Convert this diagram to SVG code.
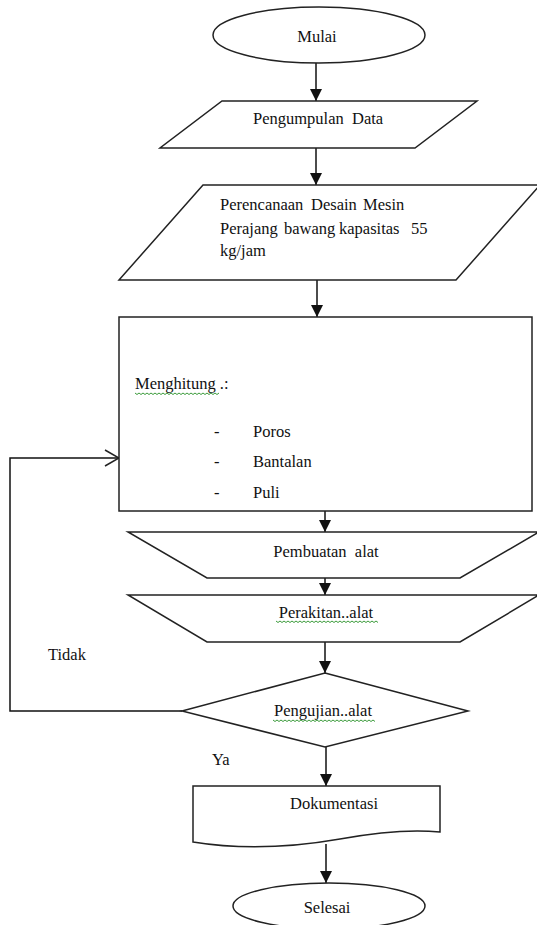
<svg xmlns="http://www.w3.org/2000/svg" width="537" height="925" viewBox="0 0 537 925">
<defs>
<marker id="arr" markerWidth="12" markerHeight="13" refX="12" refY="6" orient="auto" markerUnits="userSpaceOnUse">
<path d="M0,0 L12,6 L0,12 Z" fill="#111"/>
</marker>
<marker id="open" markerWidth="16" markerHeight="18" refX="15" refY="9" orient="auto" markerUnits="userSpaceOnUse">
<path d="M1,1 L15,9 L1,17" fill="none" stroke="#222" stroke-width="1.5"/>
</marker>
</defs>
<style>
.s{fill:#fff;stroke:#222;stroke-width:1.5}
.m{text-anchor:middle}
.c{fill:none;stroke:#111;stroke-width:1.5}
.sq{fill:none;stroke:#3a9a3a;stroke-width:1}
</style>
<rect width="537" height="925" fill="#fff"/>
<g font-family="Liberation Serif, serif" font-size="16.5" fill="#111">
<g id="connectors">
<line class="c" x1="316" y1="63" x2="316" y2="101" marker-end="url(#arr)"/>
<line class="c" x1="316" y1="148" x2="316" y2="185" marker-end="url(#arr)"/>
<line class="c" x1="317" y1="280" x2="317" y2="317" marker-end="url(#arr)"/>
<line class="c" x1="325" y1="511" x2="325" y2="532" marker-end="url(#arr)"/>
<line class="c" x1="325" y1="578" x2="325" y2="595" marker-end="url(#arr)"/>
<line class="c" x1="325" y1="642" x2="325" y2="673" marker-end="url(#arr)"/>
<line class="c" x1="326" y1="747" x2="326" y2="786" marker-end="url(#arr)"/>
<line class="c" x1="326" y1="844" x2="326" y2="883" marker-end="url(#arr)"/>
<polyline class="c" points="182,711 10,711 10,458 119,458" marker-end="url(#open)"/>
<text x="48" y="660">Tidak</text>
<text x="212" y="765">Ya</text>
</g>
<g id="mulai">
<ellipse class="s" cx="319" cy="35" rx="106" ry="28"/>
<text class="m" x="317" y="42">Mulai</text>
</g>
<g id="pengumpulan">
<polygon class="s" points="222,101 477,101 415,148 160,148"/>
<text x="253" y="124" xml:space="preserve">Pengumpulan  Data</text>
</g>
<g id="perencanaan">
<polygon class="s" points="203,185 540,185 456,280 119,280"/>
<text y="210"><tspan x="220">Perencanaan</tspan><tspan x="311">Desain</tspan><tspan x="363">Mesin</tspan></text>
<text y="234"><tspan x="220">Perajang</tspan><tspan x="284">bawang</tspan><tspan x="339">kapasitas</tspan><tspan x="411">55</tspan></text>
<text x="220" y="256">kg/jam</text>
</g>
<g id="menghitung">
<rect class="s" x="119" y="317" width="413" height="194"/>
<text x="135" y="389">Menghitung .:</text>
<path class="sq" d="M135,393 l2,1.5 l2,-1.5 l2,1.5 l2,-1.5 l2,1.5 l2,-1.5 l2,1.5 l2,-1.5 l2,1.5 l2,-1.5 l2,1.5 l2,-1.5 l2,1.5 l2,-1.5 l2,1.5 l2,-1.5 l2,1.5 l2,-1.5 l2,1.5 l2,-1.5 l2,1.5 l2,-1.5 l2,1.5 l2,-1.5 l2,1.5 l2,-1.5 l2,1.5 l2,-1.5 l2,1.5 l2,-1.5 l2,1.5 l2,-1.5 l2,1.5 l2,-1.5 l2,1.5 l2,-1.5 l2,1.5 l2,-1.5 l2,1.5 l2,-1.5 l2,1.5 l2,-1.5"/>
<text x="214" y="437">-</text>
<text x="253" y="437">Poros</text>
<text x="214" y="467">-</text>
<text x="253" y="467">Bantalan</text>
<text x="214" y="498">-</text>
<text x="253" y="498">Puli</text>
</g>
<g id="pembuatan">
<polygon class="s" points="128,532 539,532 460,578 207,578"/>
<text class="m" x="326" y="557" xml:space="preserve">Pembuatan  alat</text>
</g>
<g id="perakitan">
<polygon class="s" points="128,595 539,595 460,642 207,642"/>
<text class="m" x="326" y="618">Perakitan..alat</text>
<path class="sq" d="M276,621 l2,1.5 l2,-1.5 l2,1.5 l2,-1.5 l2,1.5 l2,-1.5 l2,1.5 l2,-1.5 l2,1.5 l2,-1.5 l2,1.5 l2,-1.5 l2,1.5 l2,-1.5 l2,1.5 l2,-1.5 l2,1.5 l2,-1.5 l2,1.5 l2,-1.5 l2,1.5 l2,-1.5 l2,1.5 l2,-1.5 l2,1.5 l2,-1.5 l2,1.5 l2,-1.5 l2,1.5 l2,-1.5 l2,1.5 l2,-1.5 l2,1.5 l2,-1.5 l2,1.5 l2,-1.5 l2,1.5 l2,-1.5 l2,1.5 l2,-1.5 l2,1.5 l2,-1.5 l2,1.5 l2,-1.5 l2,1.5 l2,-1.5 l2,1.5 l2,-1.5 l2,1.5 l2,-1.5 l2,1.5"/>
</g>
<g id="pengujian">
<polygon class="s" points="325,673 468,711 325,747 182,711"/>
<text class="m" x="323" y="716">Pengujian..alat</text>
<path class="sq" d="M273,720 l2,1.5 l2,-1.5 l2,1.5 l2,-1.5 l2,1.5 l2,-1.5 l2,1.5 l2,-1.5 l2,1.5 l2,-1.5 l2,1.5 l2,-1.5 l2,1.5 l2,-1.5 l2,1.5 l2,-1.5 l2,1.5 l2,-1.5 l2,1.5 l2,-1.5 l2,1.5 l2,-1.5 l2,1.5 l2,-1.5 l2,1.5 l2,-1.5 l2,1.5 l2,-1.5 l2,1.5 l2,-1.5 l2,1.5 l2,-1.5 l2,1.5 l2,-1.5 l2,1.5 l2,-1.5 l2,1.5 l2,-1.5 l2,1.5 l2,-1.5 l2,1.5 l2,-1.5 l2,1.5 l2,-1.5 l2,1.5 l2,-1.5 l2,1.5 l2,-1.5 l2,1.5 l2,-1.5 l2,1.5"/>
</g>
<g id="dokumentasi">
<path class="s" d="M193,786 L440,786 L440,832 Q400,828 340,839 Q260,853 193,842 Z"/>
<text class="m" x="334" y="809">Dokumentasi</text>
</g>
<g id="selesai">
<ellipse class="s" cx="329" cy="906" rx="96" ry="23"/>
<text class="m" x="327" y="913">Selesai</text>
</g>
</g>
</svg>
